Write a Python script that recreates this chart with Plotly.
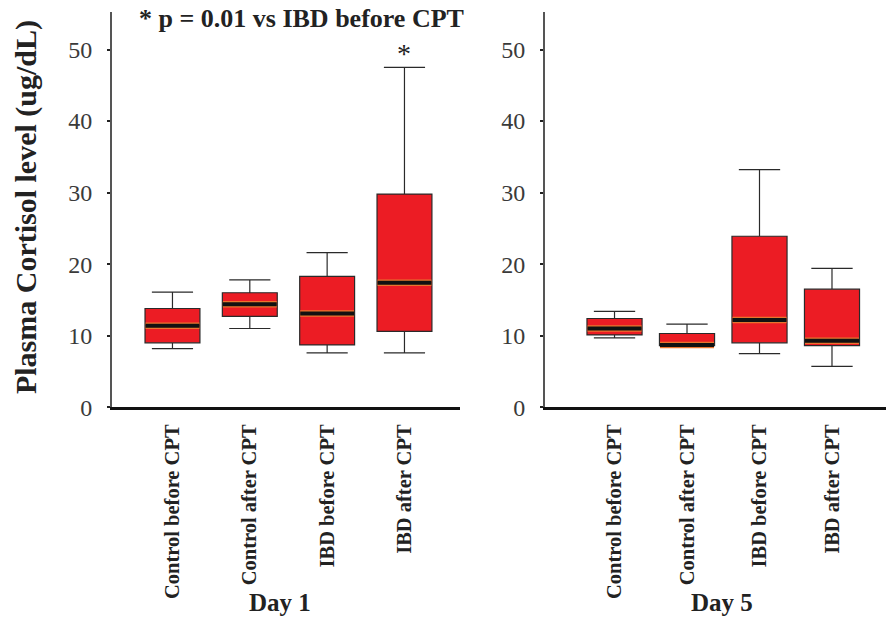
import plotly.graph_objects as go

categories = ["Control before CPT", "Control after CPT", "IBD before CPT", "IBD after CPT"]

day1_low = [8.2, 11.0, 7.6, 7.6]
day1_q1 = [9.0, 12.7, 8.7, 10.6]
day1_med = [11.4, 14.4, 13.1, 17.4]
day1_q3 = [13.8, 16.0, 18.3, 29.8]
day1_high = [16.1, 17.8, 21.6, 47.5]

day5_low = [9.7, 8.5, 7.5, 5.7]
day5_q1 = [10.1, 8.6, 9.0, 8.6]
day5_med = [11.0, 8.7, 12.2, 9.3]
day5_q3 = [12.4, 10.3, 23.9, 16.5]
day5_high = [13.4, 11.6, 33.2, 19.4]

y_ticks = [0, 10, 20, 30, 40, 50]

RED = "#EC1C24"
SERIF = "Liberation Serif"

fig = go.Figure()


def add_panel(xa, ya, low, q1, med, q3, high, width):
    fig.add_trace(go.Box(
        x=categories, q1=q1, median=med, q3=q3, lowerfence=low, upperfence=high,
        xaxis=xa, yaxis=ya, width=width, whiskerwidth=0.75,
        fillcolor=RED, line=dict(color="#2a2a2a", width=1.2),
        boxpoints=False, hoverinfo="skip", showlegend=False))
    # thick median bar: degenerate box at median
    fig.add_trace(go.Box(
        x=categories, q1=med, median=med, q3=med, lowerfence=med, upperfence=med,
        xaxis=xa, yaxis=ya, width=width * 0.98, whiskerwidth=0,
        fillcolor="rgba(0,0,0,0)", line=dict(color="#E8742E", width=6.5),
        boxpoints=False, hoverinfo="skip", showlegend=False))
    fig.add_trace(go.Box(
        x=categories, q1=med, median=med, q3=med, lowerfence=med, upperfence=med,
        xaxis=xa, yaxis=ya, width=width * 0.98, whiskerwidth=0,
        fillcolor="rgba(0,0,0,0)", line=dict(color="#111111", width=4),
        boxpoints=False, hoverinfo="skip", showlegend=False))


add_panel("x", "y", day1_low, day1_q1, day1_med, day1_q3, day1_high, 0.71)
add_panel("x2", "y2", day5_low, day5_q1, day5_med, day5_q3, day5_high, 0.76)

W = 886
K = 1.0215          # vertical compensation
H = round(619 * K)  # 632


def py(pix):
    """target pixel row (from top) -> paper fraction"""
    return 1 - pix * K / H


ytop, y0 = 12, 407
ydom = [py(y0), py(ytop)]
yrange = [0, (y0 - ytop) / 7.15]

xcommon = dict(type="category", categoryorder="array", categoryarray=categories,
               showline=True, linecolor="#111111", linewidth=3,
               ticks="outside", ticklen=0, tickcolor="rgba(0,0,0,0)",
               tickangle=-90, ticklabelstandoff=6,
               tickfont=dict(family=SERIF, size=20.5, color="#222222", weight="bold"),
               showgrid=False, zeroline=False)
ycommon = dict(range=yrange, tickvals=y_ticks, showline=True, linecolor="#555555",
               linewidth=2, ticks="outside", ticklen=3, tickwidth=2, tickcolor="#222222",
               ticklabelstandoff=10,
               tickfont=dict(family=SERIF, size=24, color="#3a3a3a"),
               showgrid=False, zeroline=False, domain=ydom)

fig.update_layout(
    width=W, height=H,
    margin=dict(l=0, r=0, t=0, b=0),
    paper_bgcolor="white", plot_bgcolor="white",
    boxmode="overlay",
    xaxis=dict(xcommon, domain=[112 / W, 460 / W], range=[-0.782, 3.718], anchor="y"),
    xaxis2=dict(xcommon, domain=[545 / W, 1.0], range=[-0.959, 3.745], anchor="y2"),
    yaxis=dict(ycommon, anchor="x"),
    yaxis2=dict(ycommon, anchor="x2"),
)

annotations = [
    dict(text="<b>Plasma Cortisol level (ug/dL)</b>", x=26 / W, y=py(207),
         xref="paper", yref="paper", textangle=-90, showarrow=False,
         font=dict(family=SERIF, size=30, color="#222222"), xanchor="center", yanchor="middle"),
    dict(text="<b>* p = 0.01 vs IBD before CPT</b>", x=301 / W, y=py(18),
         xref="paper", yref="paper", showarrow=False,
         font=dict(family=SERIF, size=26, color="#222222"), xanchor="center", yanchor="middle"),
    dict(text="*", x=categories[3], y=day1_high[3], xref="x", yref="y",
         showarrow=False, yshift=14, font=dict(family=SERIF, size=28, color="#222222"),
         xanchor="center", yanchor="middle"),
    dict(text="<b>Day 1</b>", x=280 / W, y=py(602), xref="paper", yref="paper",
         showarrow=False, font=dict(family=SERIF, size=25, color="#222222"),
         xanchor="center", yanchor="middle"),
    dict(text="<b>Day 5</b>", x=722 / W, y=py(602), xref="paper", yref="paper",
         showarrow=False, font=dict(family=SERIF, size=25, color="#222222"),
         xanchor="center", yanchor="middle"),
]
fig.update_layout(annotations=annotations)

fig.write_html("out.html", config={"displayModeBar": False})

with open("out.html", "r", encoding="utf-8") as f:
    html = f.read()
html = html.replace(
    "<head>",
    "<head><style>html,body{margin:0;padding:0;overflow:hidden;}</style>",
    1)
with open("out.html", "w", encoding="utf-8") as f:
    f.write(html)
